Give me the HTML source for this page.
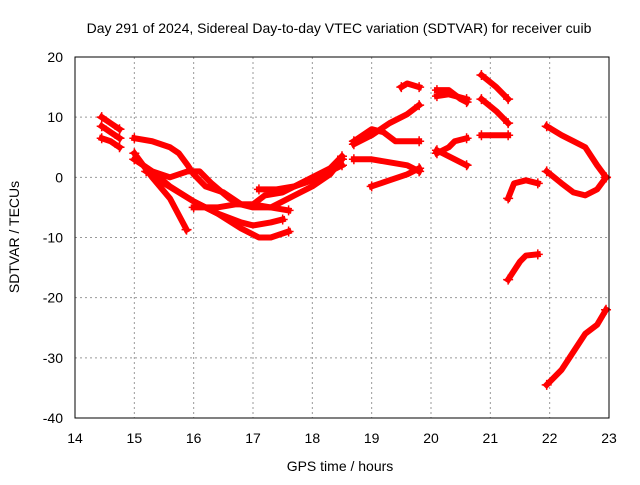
<!DOCTYPE html>
<html><head><meta charset="utf-8"><style>
body{margin:0;background:#fff}
svg text{font-family:"Liberation Sans",sans-serif;font-size:14px;fill:#000}
</style></head><body>
<svg id="chart" width="640" height="480" xmlns="http://www.w3.org/2000/svg">
<rect width="640" height="480" fill="#fff"/>
<text x="339" y="33" text-anchor="middle">Day 291 of 2024, Sidereal Day-to-day VTEC variation (SDTVAR) for receiver cuib</text>
<g id="grid"></g><g id="ticks"></g>
<g id="series"></g>
<rect x="75" y="57" width="534" height="361" fill="none" stroke="#000" stroke-width="1"/>
<text x="340" y="471" text-anchor="middle">GPS time / hours</text>
<text transform="translate(19,237) rotate(-90)" text-anchor="middle">SDTVAR / TECUs</text>
</svg>
<script>
const xTicks=[14,15,16,17,18,19,20,21,22,23];
const yTicks=[20,10,0,-10,-20,-30,-40];
const tracks=[
[[14.45,10],[14.6,9],[14.75,8]],
[[14.45,8.5],[14.6,7.5],[14.75,6.5]],
[[14.45,6.5],[14.6,6],[14.75,5]],
[[15.0,6.5],[15.3,6],[15.6,5],[15.75,4],[15.9,2],[16.0,0.5],[16.2,-1.5],[16.5,-2.5],[16.8,-4.5],[17.0,-5],[17.3,-5],[17.6,-5.5]],
[[15.0,3],[15.3,1],[15.6,0],[15.9,1],[16.1,1],[16.3,-1],[16.6,-3.5],[16.8,-4.5],[17.0,-4.5],[17.2,-3],[17.5,-2.5],[17.8,-1],[18.0,0],[18.3,1.5],[18.5,3.5]],
[[15.0,4],[15.3,0],[15.6,-3.5],[15.88,-8.7]],
[[15.0,3],[15.3,1],[15.6,-1.5],[16.0,-4],[16.4,-6],[16.8,-8.5],[17.1,-10],[17.3,-10],[17.6,-9]],
[[15.2,1],[15.5,-1],[16.0,-4],[16.4,-6],[16.8,-7.5],[17.0,-8],[17.3,-7.5],[17.5,-7]],
[[16.0,-5],[16.4,-5],[16.7,-4.5],[17.0,-4.5],[17.3,-5],[17.5,-4],[17.7,-3],[18.0,-1.5],[18.3,0.5],[18.5,3]],
[[17.1,-2],[17.4,-2],[17.7,-1.5],[18.0,-0.5],[18.3,1],[18.5,2]],
[[18.7,5.5],[19.0,7],[19.3,9],[19.6,10.5],[19.8,12]],
[[18.7,6],[19.0,8],[19.2,7.5],[19.4,6],[19.6,6],[19.8,6]],
[[18.7,3],[19.0,3],[19.3,2.5],[19.6,2],[19.8,1]],
[[19.0,-1.5],[19.3,-0.5],[19.6,0.5],[19.8,1.5]],
[[19.5,15],[19.6,15.6],[19.8,15]],
[[20.1,14.5],[20.3,14.5],[20.5,13],[20.6,12.5]],
[[20.1,13.5],[20.3,13.8],[20.6,13]],
[[20.1,4],[20.3,5],[20.4,6],[20.6,6.5]],
[[20.1,4.5],[20.4,3],[20.6,2]],
[[20.85,17],[21.1,15],[21.3,13]],
[[20.85,13],[21.1,11],[21.3,9]],
[[20.85,7],[21.1,7],[21.3,7]],
[[21.3,-3.5],[21.4,-1],[21.6,-0.5],[21.8,-1]],
[[21.3,-17],[21.5,-14],[21.6,-13],[21.8,-12.8]],
[[21.95,8.5],[22.2,7],[22.4,6],[22.6,5],[22.8,2],[22.95,0]],
[[21.95,1],[22.2,-1],[22.4,-2.5],[22.6,-3],[22.8,-2],[22.95,0]],
[[21.95,-34.5],[22.2,-32],[22.4,-29],[22.6,-26],[22.8,-24.5],[22.95,-22]]
];
const X=t=>75+(t-14)*534/9, Y=v=>57+(20-v)*361/60;
const NS="http://www.w3.org/2000/svg";
const g=document.getElementById('grid'),tk=document.getElementById('ticks'),s=document.getElementById('series');
function mk(tag,a,p){const e=document.createElementNS(NS,tag);for(const k in a)e.setAttribute(k,a[k]);p.appendChild(e);return e;}
xTicks.forEach(t=>{
 if(t>14&&t<23){const l=mk('line',{x1:X(t),x2:X(t),y1:57,y2:418,stroke:'#999','stroke-dasharray':'2,3'},g);
 
 }
 const tx=mk('text',{x:X(t),y:443,'text-anchor':'middle'},tk);tx.textContent=t;
 
 
});
yTicks.forEach(v=>{
 if(v<20&&v>-40){const l=mk('line',{x1:75,x2:609,y1:Y(v),y2:Y(v),stroke:'#999','stroke-dasharray':'2,3'},g);
 
 }
 const tx=mk('text',{x:63,y:Y(v)+5,'text-anchor':'end'},tk);tx.textContent=v;
 
 
});
tracks.forEach((tr,i)=>{
 const p=mk('polyline',{points:tr.map(d=>X(d[0])+','+Y(d[1])).join(' '),fill:'none',stroke:'#f00','stroke-width':6,'stroke-linejoin':'round','stroke-linecap':'square'},s);
 
 
 const a=tr[0],b=tr[tr.length-1];
 [a,b].forEach(d=>{
  const m=mk('path',{d:`M${X(d[0])-5},${Y(d[1])}h10M${X(d[0])},${Y(d[1])-5}v10`,stroke:'#f00','stroke-width':1.5},s);
  
  
 });
});
</script>
</body></html>
